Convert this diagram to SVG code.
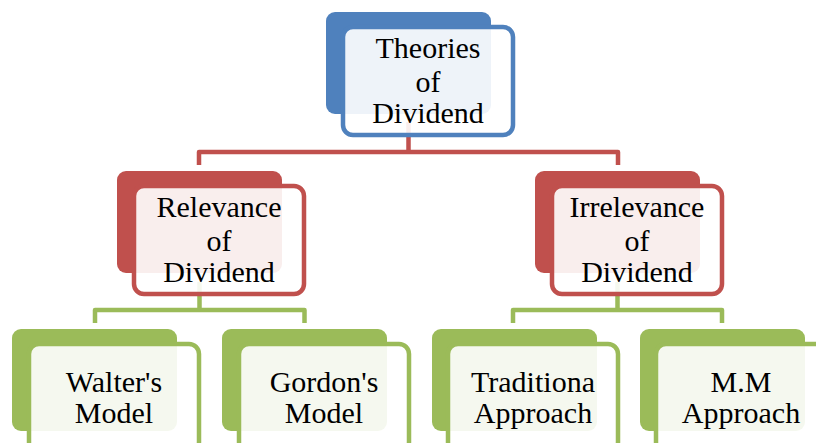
<svg xmlns="http://www.w3.org/2000/svg" width="816" height="443" viewBox="0 0 816 443">
  <style>
    .conn { fill: none; stroke-width: 4.5; stroke-linejoin: round; stroke-linecap: butt; }
    .red { stroke: #C0504D; }
    .green { stroke: #9BBB59; }
    .back { stroke: none; }
    .front { fill: #FFFFFF; fill-opacity: 0.9; stroke-width: 4.5; }
    .blue .back { fill: #4F81BD; } .blue .front { stroke: #4F81BD; }
    .rd .back { fill: #C0504D; } .rd .front { stroke: #C0504D; }
    .gr .back { fill: #9BBB59; } .gr .front { stroke: #9BBB59; }
    .lbl { font-family: 'Liberation Serif', 'Times New Roman', serif; font-size: 30px; fill: #000; text-anchor: middle; }
  </style>
  <rect width="816" height="443" fill="#FFFFFF"/>

  <!-- connectors (behind the translucent front cards) -->
  <g id="connectors">
    <path class="conn red" d="M408.5,122 V152 M199,165 V152 H618 V165"/>
    <path class="conn green" d="M199.5,282 V310 M95,323 V310 H304.5 V323"/>
    <path class="conn green" d="M617.5,282 V310 M513,323 V310 H722 V323"/>
  </g>

  <g id="theories" class="blue">
    <rect class="back" x="326" y="12" width="165" height="102" rx="9"/>
    <rect class="front" x="343" y="27" width="170" height="108" rx="10"/>
    <text class="lbl" x="428" y="58">Theories</text>
    <text class="lbl" x="428" y="92">of</text>
    <text class="lbl" x="428" y="123">Dividend</text>
  </g>

  <g id="relevance" class="rd">
    <rect class="back" x="117" y="171" width="165" height="102" rx="9"/>
    <rect class="front" x="134" y="186" width="170" height="108" rx="10"/>
    <text class="lbl" x="219" y="217">Relevance</text>
    <text class="lbl" x="219" y="251">of</text>
    <text class="lbl" x="219" y="282">Dividend</text>
  </g>

  <g id="irrelevance" class="rd">
    <rect class="back" x="535" y="171" width="165" height="102" rx="9"/>
    <rect class="front" x="552" y="186" width="170" height="108" rx="10"/>
    <text class="lbl" x="637" y="217">Irrelevance</text>
    <text class="lbl" x="637" y="251">of</text>
    <text class="lbl" x="637" y="282">Dividend</text>
  </g>

  <g id="walters" class="gr">
    <rect class="back" x="12" y="329" width="165" height="102" rx="9"/>
    <rect class="front" x="29" y="344" width="170" height="108" rx="10"/>
    <text class="lbl" x="114" y="392">Walter's</text>
    <text class="lbl" x="114" y="423">Model</text>
  </g>

  <g id="gordons" class="gr">
    <rect class="back" x="222" y="329" width="165" height="102" rx="9"/>
    <rect class="front" x="239" y="344" width="170" height="108" rx="10"/>
    <text class="lbl" x="324" y="392">Gordon's</text>
    <text class="lbl" x="324" y="423">Model</text>
  </g>

  <g id="traditional" class="gr">
    <rect class="back" x="432" y="329" width="165" height="102" rx="9"/>
    <rect class="front" x="448" y="344" width="170" height="108" rx="10"/>
    <text class="lbl" x="533" y="392">Traditiona</text>
    <text class="lbl" x="533" y="423">Approach</text>
  </g>

  <g id="mm" class="gr">
    <rect class="back" x="640" y="329" width="165" height="102" rx="9"/>
    <rect class="front" x="656" y="344" width="170" height="108" rx="10"/>
    <text class="lbl" x="741" y="392">M.M</text>
    <text class="lbl" x="741" y="423">Approach</text>
  </g>
</svg>
